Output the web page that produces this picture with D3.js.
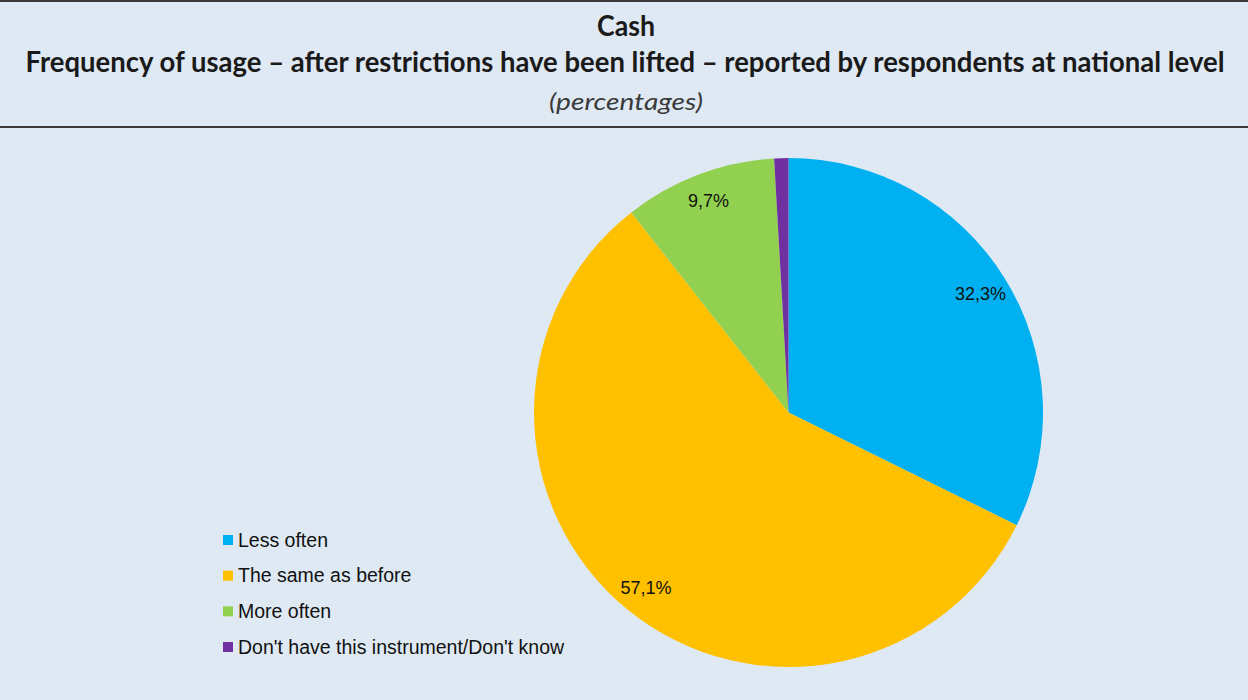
<!DOCTYPE html>
<html><head><meta charset="utf-8">
<script src="https://cdn.jsdelivr.net/npm/d3@7"></script>
<style>html,body{margin:0;padding:0;background:#dfe9f3;}svg{display:block;}</style>
</head><body>
<svg id="chart" width="1248" height="700"></svg>
<script>
const categories = ["Less often", "The same as before", "More often", "Don't have this instrument/Don't know"];
const values = [32.3, 57.1, 9.7, 0.9];
const labels = ["32,3%", "57,1%", "9,7%", ""];
const colors = ["#00b0f0", "#ffc000", "#92d050", "#7030a0"];

const svg = d3.select("#chart");
const W = 1248, H = 700;
svg.append("rect").attr("width", W).attr("height", H).attr("fill", "#dfe9f3");
svg.append("line").attr("x1", 0).attr("x2", W).attr("y1", 1).attr("y2", 1).attr("stroke", "#3a3a3a").attr("stroke-width", 2);
svg.append("line").attr("x1", 0).attr("x2", W).attr("y1", 127).attr("y2", 127).attr("stroke", "#3a3a3a").attr("stroke-width", 2);

const tf = "Lato, 'Open Sans', sans-serif";
svg.append("text").attr("x", 626).attr("y", 36).attr("text-anchor", "middle")
  .style("font-family", tf).style("font-weight", "bold").style("font-size", "29px").attr("fill", "#1a1a1a")
  .attr("textLength", 58).attr("lengthAdjust", "spacingAndGlyphs")
  .text("Cash");
svg.append("text").attr("x", 625).attr("y", 72).attr("text-anchor", "middle")
  .style("font-family", tf).style("font-weight", "bold").style("font-size", "28px").attr("fill", "#1a1a1a")
  .attr("textLength", 1199).attr("lengthAdjust", "spacingAndGlyphs")
  .text("Frequency of usage – after restrictions have been lifted – reported by respondents at national level");
svg.append("text").attr("x", 626).attr("y", 110).attr("text-anchor", "middle")
  .style("font-family", tf).style("font-style", "italic").style("font-size", "24px").attr("fill", "#3a3a3a")
  .attr("textLength", 154).attr("lengthAdjust", "spacingAndGlyphs")
  .text("(percentages)");

const cx = 788.5, cy = 412.5, R = 254.5;
const pie = d3.pie().sort(null).value(d => d)(values);
const arc = d3.arc().innerRadius(0).outerRadius(R);
const labelArc = d3.arc().innerRadius(226).outerRadius(226);
const g = svg.append("g").attr("transform", `translate(${cx},${cy})`);
g.selectAll("path").data(pie).join("path").attr("d", arc).attr("fill", (d, i) => colors[i]);
g.selectAll("text").data(pie).join("text")
  .attr("transform", d => `translate(${labelArc.centroid(d)})`)
  .attr("text-anchor", "middle").attr("dy", "0.35em")
  .style("font-family", "'Liberation Sans', Arial, sans-serif").style("font-size", "18px").attr("fill", "#111")
  .text((d, i) => labels[i]);

const leg = svg.append("g");
const ly = d3.scalePoint().domain(categories).range([540, 647]);
categories.forEach((c, i) => {
  leg.append("rect").attr("x", 223).attr("y", ly(c) - 5).attr("width", 10).attr("height", 10).attr("fill", colors[i]);
  leg.append("text").attr("x", 238).attr("y", ly(c)).attr("dy", "0.35em")
    .style("font-family", "'Liberation Sans', Arial, sans-serif").style("font-size", "19.5px").attr("fill", "#111")
    .text(c);
});
</script>
</body></html>
